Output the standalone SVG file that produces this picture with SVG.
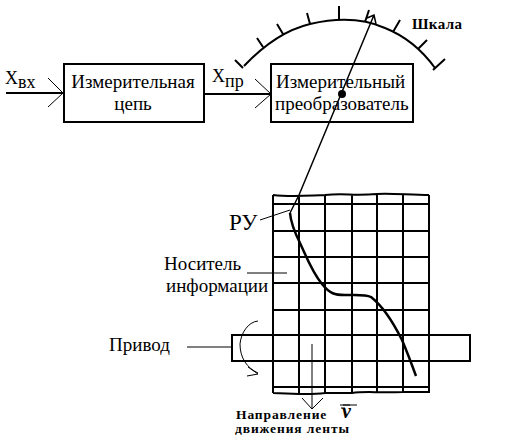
<svg xmlns="http://www.w3.org/2000/svg" width="507" height="442" viewBox="0 0 507 442">
<style>
text{font-family:"Liberation Serif","Times New Roman",serif;fill:#000}
.t{font-size:19px}
.b{font-size:13.5px;font-weight:bold;letter-spacing:.9px}
.box{fill:#fff;stroke:#000;stroke-width:2}
.w{fill:none;stroke:#000;stroke-width:2}
.n{fill:none;stroke:#000;stroke-width:1}
.m{fill:none;stroke:#000;stroke-width:1.5}
</style>
<rect width="507" height="442" fill="#fff"/>
<g id="tape">
<path class="w" d="M273 195C290 197 300 196 325 195C345 193 352 196 377 194C390 193 410 195 429 195M273 204H429M273 231H429M273 257H429M273 283H429M273 310H429M273 387H429M273 393C295 394 310 395 325 393L352 393C365 391 377 393 403 392L429 392M273 195V393M299 195V393M325 195V393M352 195V393M377 195V393M403 195V393M429 195V393"/>
</g>
<g id="drive">
<path class="w" d="M232 335H470V361H232ZM273 335V361M299 335V361M325 335V361M352 335V361M377 335V361M403 335V361M429 335V361"/>
<text class="t" x="109" y="351">Привод</text>
</g>
<g id="block-circuit">
<rect class="box" x="64" y="64" width="140" height="58"/>
<text class="t" x="133" y="88" text-anchor="middle">Измерительная</text>
<text class="t" x="133" y="110" text-anchor="middle">цепь</text>
</g>
<g id="block-converter">
<rect class="box" x="271" y="64" width="142" height="58"/>
<text class="t" x="276" y="88">Измерительный</text>
<text class="t" x="275" y="110">преобразователь</text>
</g>
<g id="scale">
<path class="w" d="M244 66C262 47 285 30 310 24C340 17 365 19 385 28C405 36 422 50 435 68M235 60L243 68M433 70L445 59M257 38L263 47M277 24L283 34M307 13L310 24M339 6V20M369 10L365 22M400 20L393 32M427 40L418 49"/>
<text x="412" y="29" style="font-size:15px;font-weight:bold;letter-spacing:.4px">Шкала</text>
</g>
<g id="connectors">
<path class="w" d="M6 93H63M204 94H271"/>
<path class="n" d="M48 78L63 93L48 107M255 79L271 94L255 108"/>
<path class="m" d="M374 15L299 195L290 213M367 18L374 15L376 24"/>
<circle cx="342" cy="94" r="4"/>
<path class="w" style="stroke-width:2.5" d="M290 213C291 225 296 235 300 243C307 258 312 272 322 284C330 294 335 295 345 295C355 295 365 294 371 297C380 304 392 320 402 340C408 354 412 365 416 376"/>
<path class="n" d="M260 220L290 210M247 273H287M187 347H232M312 344V409M302 398L312 409L323 398"/>
<path class="n" d="M258 321C248 322 241 333 240 344C240 358 247 368 258 373M248 367L258 374L247 376"/>
</g>
<g id="labels">
<text x="5" y="84" style="font-size:18px">X</text>
<text x="18" y="88" style="font-size:18px">вх</text>
<text x="212" y="82" style="font-size:18px">X</text>
<text x="225" y="87" style="font-size:18px">пр</text>
<text x="229" y="230" style="font-size:23px">РУ</text>
<text class="t" x="164" y="270">Носитель</text>
<text class="t" x="166" y="292">информации</text>
<text class="b" x="236" y="419">Направление</text>
<text class="b" x="235" y="433">движения ленты</text>
<text x="342" y="418" style="font-size:20px;font-style:italic;font-weight:bold">v</text>
<path class="n" d="M340 405H350M341 408H345M343 405H357"/>
</g>
</svg>
